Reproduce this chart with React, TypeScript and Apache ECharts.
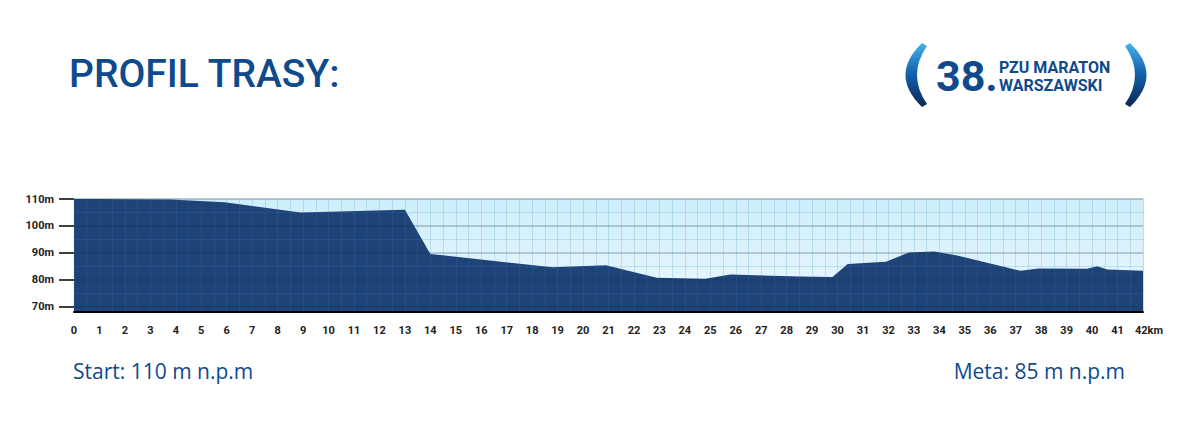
import React, { useEffect, useRef } from "react";
import * as echarts from "echarts";

const distanceKm = [0, 0.9, 2, 3.8, 5.9, 8.9, 13, 14, 18.8, 20.9, 22.9, 24.8, 25.8, 28.5, 29.8, 30.4, 31.9, 32.8, 33.8, 34.7, 37.2, 37.9, 39.8, 40.2, 40.6, 42];
const elevationM = [110, 110, 109.9, 109.8, 108.8, 105, 106, 89.6, 84.6, 85.4, 80.7, 80.4, 81.9, 81.2, 81, 85.8, 86.7, 90.1, 90.5, 89, 83.3, 84.2, 84.1, 85, 83.8, 83.3];
const yTickValues = [70, 80, 90, 100, 110];
const yMinorValues = [75, 85, 95, 105];
const titleText = "PROFIL TRASY:";
const startText = "Start: 110 m n.p.m";
const metaText = "Meta: 85 m n.p.m";

const BLUE = "#0f4a8c";
const NAVY = "#1f4277";
const MINOR = "rgba(40,140,190,0.2)";

let registered = false;
function registerShapes() {
  if (registered) return;
  registered = true;
  const d = "M 922 43 Q 889 75 922 107 L 927 104 Q 907 75 927 46 Z";
  echarts.graphic.registerShape("bracket", echarts.graphic.extendPath(d, {}) as any);
}

export default function App() {
  const ref = useRef<HTMLDivElement>(null);
  useEffect(() => {
    if (!ref.current) return;
    registerShapes();
    const chart = echarts.init(ref.current, undefined, { renderer: "svg" });
    const bracketGrad = () =>
      new echarts.graphic.LinearGradient(0, 0, 0, 1, [
        { offset: 0, color: "#45b3ea" },
        { offset: 0.45, color: "#1565b0" },
        { offset: 1, color: "#0a2553" },
      ]);
    const option: any = {
      animation: false,
      grid: {
        left: 74,
        right: 57,
        top: 199,
        bottom: 117,
        show: true,
        z: 0,
        borderColor: "#dce4e8",
        borderWidth: 1,
        backgroundColor: new echarts.graphic.LinearGradient(0, 0, 0, 1, [
          { offset: 0, color: "#cdeefb" },
          { offset: 1, color: "#edf8fe" },
        ]),
      },
      xAxis: {
        type: "value",
        min: 0,
        max: 42,
        interval: 1,
        z: 3,
        axisLine: { show: true, lineStyle: { color: "#000", width: 2 } },
        axisTick: { show: false },
        axisLabel: {
          margin: 13,
          color: "#222",
          fontFamily: "Roboto",
          fontWeight: "bold",
          fontSize: 11,
          formatter: (v: number) => (v === 42 ? "{last|42km}" : String(v)),
          rich: {
            last: { padding: [0, 0, 0, 12], color: "#222", fontFamily: "Roboto", fontWeight: "bold", fontSize: 11 },
          },
        },
        splitLine: { show: true, lineStyle: { color: MINOR, width: 1 } },
        minorTick: { show: false, splitNumber: 2 },
        minorSplitLine: { show: true, lineStyle: { color: MINOR, width: 1 } },
      },
      yAxis: [
        {
          type: "value",
          min: 68,
          max: 110,
          z: 3,
          axisLine: { show: false },
          axisTick: {
            show: true,
            length: 15,
            customValues: yTickValues,
            lineStyle: { color: "#000", width: 1.5 },
          },
          axisLabel: {
            customValues: yTickValues,
            margin: 20,
            color: "#222",
            fontFamily: "Roboto",
            fontWeight: "bold",
            fontSize: 11,
            formatter: (v: number) => v + "m",
          },
          splitLine: { show: true, lineStyle: { color: "rgba(20,50,80,0.3)", width: 1.5 } },
        },
        {
          type: "value",
          min: 68,
          max: 110,
          z: 3,
          position: "left",
          axisLine: { show: false },
          axisTick: { show: false, customValues: yMinorValues },
          axisLabel: { show: false },
          splitLine: { show: true, lineStyle: { color: MINOR, width: 1 } },
        },
      ],
      series: [
        {
          type: "line",
          z: 1,
          yAxisIndex: 0,
          data: distanceKm.map((d, i) => [d, elevationM[i]]),
          symbol: "none",
          lineStyle: { width: 0 },
          areaStyle: { color: NAVY, opacity: 1, origin: "start" },
        },
      ],
      graphic: [
        {
          type: "text",
          style: { x: 69, y: 74, text: titleText, font: "500 39px Roboto", fill: BLUE, textVerticalAlign: "middle" },
        },
        { type: "bracket", x: 0, y: 0, style: { fill: bracketGrad() } },
        { type: "bracket", x: 2052, y: 0, scaleX: -1, style: { fill: bracketGrad() } },
        {
          type: "text",
          style: { x: 936, y: 76, text: "38.", font: "bold 43px Roboto", fill: BLUE, textVerticalAlign: "middle" },
        },
        {
          type: "text",
          style: { x: 999, y: 67, text: "PZU MARATON", font: "bold 16px Roboto", fill: BLUE, textVerticalAlign: "middle" },
        },
        {
          type: "text",
          style: { x: 999, y: 85, text: "WARSZAWSKI", font: "bold 16px Roboto", fill: BLUE, textVerticalAlign: "middle" },
        },
        {
          type: "text",
          style: { x: 73, y: 371, text: startText, font: "21px 'Open Sans'", fill: BLUE, textVerticalAlign: "middle" },
        },
        {
          type: "text",
          style: { x: 1125, y: 371, text: metaText, font: "21px 'Open Sans'", fill: BLUE, textAlign: "right", textVerticalAlign: "middle" },
        },
      ],
    };
    chart.setOption(option);
    return () => chart.dispose();
  }, []);
  return (
    <div
      ref={ref}
      style={{ position: "absolute", left: 0, top: 0, width: 1200, height: 429, background: "#fff" }}
    />
  );
}
